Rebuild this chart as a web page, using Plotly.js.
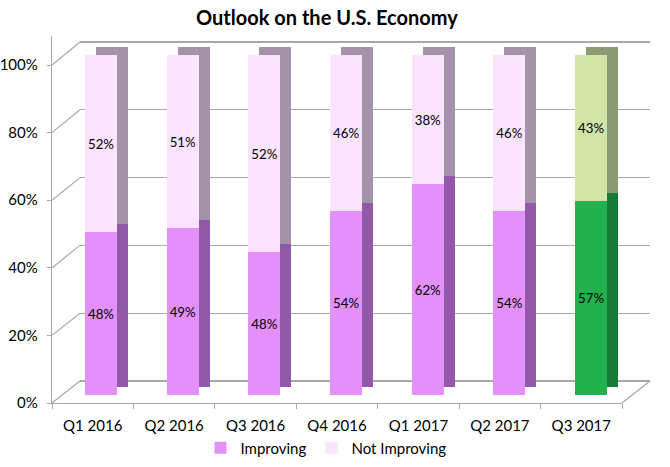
<!DOCTYPE html>
<html>
<head>
<meta charset="utf-8">
<script src="https://cdn.plot.ly/plotly-3.0.1.min.js"></script>
<style>
  html, body { margin: 0; padding: 0; background: #fff; }
  #chart { width: 670px; height: 467px; }
</style>
</head>
<body>
<div id="chart"></div>
<script>
// data
var quarters = ['Q1 2016', 'Q2 2016', 'Q3 2016', 'Q4 2016', 'Q1 2017', 'Q2 2017', 'Q3 2017'];
var improving = [48, 49, 42, 54, 62, 54, 57];
var notImproving = [52, 51, 58, 46, 38, 46, 43];
var improvingLabels = ['48%', '49%', '48%', '54%', '62%', '54%', '57%'];
var notImprovingLabels = ['52%', '51%', '52%', '46%', '38%', '46%', '43%'];
var yTicks = [0, 20, 40, 60, 80, 100];

var font = 'Gill Sans, Lato, sans-serif';

// the last quarter is drawn in green
function colours(normal, last) {
    var c = [];
    for (var i = 0; i < quarters.length; i++) {
        c.push(i == quarters.length - 1 ? last : normal);
    }
    return c;
}

var barWidth = 0.392;

// empty holders so the wall and the front axes get their subplots
var wall = {
    x: [], y: [], type: 'scatter', mode: 'none', xaxis: 'x', yaxis: 'y',
    showlegend: false, hoverinfo: 'skip'
};
var front = {
    x: quarters, y: improving, type: 'scatter', mode: 'none', xaxis: 'x2', yaxis: 'y2',
    showlegend: false, hoverinfo: 'skip'
};

// back faces (side of the 3d bar), slightly up and right
var sideImp = {
    x: quarters, y: improving, type: 'bar', xaxis: 'x3', yaxis: 'y3',
    width: barWidth, showlegend: false, hoverinfo: 'skip',
    marker: { color: colours('#9259a8', '#177a36') }
};
var sideNot = {
    x: quarters, y: notImproving, type: 'bar', xaxis: 'x3', yaxis: 'y3',
    width: barWidth, showlegend: false, hoverinfo: 'skip',
    marker: { color: colours('#a493a8', '#8c9a72') }
};

// front faces
var frontImp = {
    x: quarters, y: improving, type: 'bar', xaxis: 'x4', yaxis: 'y4',
    name: 'Improving', width: barWidth,
    text: improvingLabels, textposition: 'inside', insidetextanchor: 'middle',
    textangle: 0, textfont: { family: font, size: 14, color: '#000' },
    marker: { color: colours('#e390fb', '#22b14c') }
};
var frontNot = {
    x: quarters, y: notImproving, type: 'bar', xaxis: 'x4', yaxis: 'y4',
    name: 'Not Improving', width: barWidth,
    text: notImprovingLabels, textposition: 'inside', insidetextanchor: 'middle',
    textangle: 0, textfont: { family: font, size: 14, color: '#000' },
    marker: { color: colours('#f9e3fd', '#d3e4a9') }
};

// pixel helpers for the frame of the fake 3d box
var padL = 52, padR = 20, padT = 36, padB = 64;
var W = 670 - padL - padR, H = 467 - padT - padB;
function px(x) { return (x - padL) / W; }
function py(y) { return (467 - padB - y) / H; }

var lineCol = '#a8a8a8';
var shapes = [];
for (var i = 0; i < yTicks.length; i++) {
    var v = yTicks[i];
    shapes.push({
        type: 'line', xref: 'paper', yref: 'paper',
        x0: px(52), y0: py(403 - 3.38 * v), x1: px(80), y1: py(381 - 3.39 * v),
        line: { color: lineCol, width: 1.2 }
    });
}
shapes.push({
    type: 'line', xref: 'paper', yref: 'paper',
    x0: px(622), y0: py(403), x1: px(650), y1: py(381),
    line: { color: lineCol, width: 1.2 }
});

var groupX = [0, 570 / W];

var layout = {
    width: 670, height: 467,
    margin: { l: padL, r: padR, t: padT, b: padB },
    paper_bgcolor: '#fff', plot_bgcolor: 'rgba(0,0,0,0)',
    font: { family: font, size: 14, color: '#000' },
    title: {
        text: '<b>Outlook on the U.S. Economy</b>',
        font: { family: font, size: 20, color: '#000' },
        xref: 'container', x: 0.488, yref: 'container', y: 0.962, yanchor: 'middle'
    },
    barmode: 'stack',
    showlegend: true,
    legend: {
        orientation: 'h', traceorder: 'normal',
        xref: 'container', x: 326 / 670, xanchor: 'center',
        yref: 'container', y: 1 - 448 / 467, yanchor: 'middle',
        font: { family: font, size: 15 }, itemwidth: 30
    },
    // back wall with the gridlines
    xaxis: {
        domain: [px(80), 1], range: [0, 1], showgrid: false, zeroline: false,
        showticklabels: false, ticks: ''
    },
    yaxis: {
        domain: [py(381 + 3.39), py(42 - 3.39)], range: [-1, 101],
        tickvals: yTicks, showgrid: true, gridcolor: lineCol, gridwidth: 1.3,
        zeroline: false, showticklabels: false, ticks: ''
    },
    // front axes (floor edge and left axis)
    xaxis2: {
        domain: groupX, anchor: 'y2', type: 'category', range: [-0.5, 6.5],
        showline: true, linecolor: lineCol, linewidth: 1.2,
        ticks: 'outside', tickson: 'boundaries', ticklen: 5, tickcolor: lineCol,
        ticklabelstandoff: 9,
        showgrid: false, tickfont: { family: font, size: 15 }
    },
    yaxis2: {
        domain: [0, 1], anchor: 'x2', range: [0, (403 - 36) / 3.38],
        tickvals: yTicks, ticktext: ['0%', '20%', '40%', '60%', '80%', '100%'],
        showline: true, linecolor: lineCol, linewidth: 1.2,
        ticks: 'outside', ticklen: 4, tickcolor: lineCol,
        ticklabelstandoff: 6,
        showgrid: false, zeroline: false, tickfont: { family: font, size: 15 }
    },
    xaxis3: {
        overlaying: 'x2', anchor: 'y3', type: 'category', visible: false,
        range: [-0.7347, 6.2447]
    },
    yaxis3: {
        overlaying: 'y2', anchor: 'x3', visible: false, range: [-4.706, 103.24]
    },
    xaxis4: {
        overlaying: 'x2', anchor: 'y4', type: 'category', visible: false,
        range: [-0.6, 6.379]
    },
    yaxis4: {
        overlaying: 'y2', anchor: 'x4', visible: false, range: [-2.353, 105.59]
    },
    shapes: shapes
};

Plotly.newPlot('chart', [wall, front, sideImp, sideNot, frontImp, frontNot], layout,
    { staticPlot: true, displayModeBar: false });
</script>
</body>
</html>
